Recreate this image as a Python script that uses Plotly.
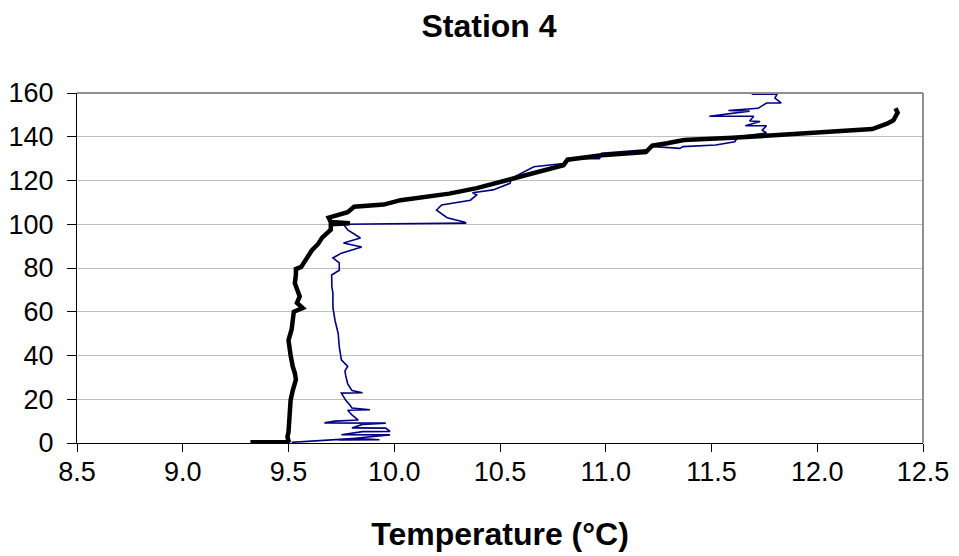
import plotly.graph_objects as go

# Black profile (thick)
black_depth = [0.4, 0.4, 1, 2.8, 5, 10, 15, 19.6, 24, 29, 32, 35, 40, 47, 52, 57, 60, 61.7, 64, 67, 70, 73, 77, 79.5,
               80.5, 85, 88, 91, 94, 97.5, 100, 100.5, 101, 103, 104, 105.5, 108, 109, 111, 112.5, 114, 116.5, 119,
               121, 124, 127, 129.5, 131.5, 133, 136, 137, 138.5, 139.5, 141, 143.5, 146, 147.5, 151, 153]
black_temp = [9.32, 9.49, 9.50, 9.495, 9.50, 9.505, 9.51, 9.51, 9.52, 9.535, 9.53, 9.52, 9.51, 9.50, 9.515, 9.52, 9.525,
              9.567, 9.54, 9.553, 9.54, 9.53, 9.535, 9.535,
              9.56, 9.59, 9.61, 9.64, 9.66, 9.70, 9.70, 9.79, 9.70, 9.69, 9.73, 9.78, 9.81, 9.95, 10.03, 10.14,
              10.26, 10.39, 10.49, 10.55, 10.69, 10.80, 10.82, 10.98, 11.19, 11.22, 11.29, 11.37, 11.60, 11.86,
              12.26, 12.33, 12.36, 12.38, 12.37]

# Navy profile (thin)
navy_depth = [0.3, 2.1, 1.5, 1.4, 2.5, 3.7, 3.8, 5.2, 5.3, 6.8, 6.9, 8.5, 9.1, 9.2, 10.0, 10.5, 12.8, 15, 15.2, 16,
              17.4, 19.6, 22.8, 23, 24, 27, 31, 33, 35, 38, 44, 50, 56, 62, 68.6, 71.4, 76.8, 79, 82.3, 84.6, 86.8,
              89.6, 91.4, 93.7, 97.4, 100, 100.5, 101, 103, 106.5, 108.8, 111, 113.4, 114.4, 115.7, 118.7, 121,
              126.3, 127.8, 130, 130, 132.4, 134, 135.5, 134.7, 135.5, 136.2, 137.7, 140, 141.7, 143, 145, 145,
              147, 147.2, 149.4, 149.4, 150.5, 151.7, 152, 153, 155.4, 155.4, 157.7, 159.5, 159.5]
navy_temp = [9.515, 9.82, 9.93, 9.74, 9.85, 9.98, 9.75, 9.85, 9.98, 9.96, 9.80, 9.85, 9.96, 9.67, 9.72, 9.83, 9.80,
             9.78, 9.885, 9.80, 9.79, 9.77, 9.75, 9.85, 9.80, 9.78, 9.77, 9.767, 9.78, 9.75, 9.74, 9.735, 9.72,
             9.71, 9.71, 9.705, 9.704, 9.74, 9.74, 9.71, 9.75, 9.846, 9.76, 9.84, 9.78, 9.76, 10.34, 10.33, 10.25,
             10.20, 10.224, 10.36, 10.39, 10.37, 10.467, 10.547, 10.555, 10.66, 10.80, 10.815, 10.97, 10.98,
             11.19, 11.23, 11.35, 11.365, 11.52, 11.61, 11.625, 11.76, 11.74, 11.76, 11.66, 11.73, 11.68, 11.70,
             11.49, 11.57, 11.68, 11.58, 11.72, 11.76, 11.83, 11.80, 11.81, 11.69]

x_ticks = [8.5, 9.0, 9.5, 10.0, 10.5, 11.0, 11.5, 12.0, 12.5]
y_ticks = [0, 20, 40, 60, 80, 100, 120, 140, 160]

FONT = "Liberation Sans, Arial, sans-serif"
W, H = 951, 548  # page body has an 8px margin

fig = go.Figure()
fig.add_trace(go.Scatter(x=navy_temp, y=navy_depth, mode="lines",
                         line=dict(color="#000080", width=1.6), showlegend=False))
fig.add_trace(go.Scatter(x=black_temp, y=black_depth, mode="lines",
                         line=dict(color="#000000", width=4.5), showlegend=False))

fig.update_layout(
    width=W, height=H,
    margin=dict(l=69, r=36, t=85, b=113, autoexpand=False),
    paper_bgcolor="white", plot_bgcolor="white",
    font=dict(family=FONT, size=27, color="black"),
    title=dict(text="<b>Station 4</b>", x=481 / W, xref="container", y=1 - 18 / H, yanchor="middle",
               xanchor="center", font=dict(family=FONT, size=32, color="black")),
    xaxis=dict(range=[8.5, 12.5], tickvals=x_ticks, ticktext=[f"{v:.1f}" for v in x_ticks],
               showgrid=False, zeroline=False, showline=True, linecolor="#000000", linewidth=1,
               ticks="outside", ticklen=8, tickcolor="#000000", automargin=False,
               ticklabelstandoff=-3,
               title=dict(text="<b>Temperature (°C)</b>", standoff=36,
                          font=dict(family=FONT, size=32, color="black")),
               tickfont=dict(family=FONT, size=27)),
    yaxis=dict(range=[0, 160], tickvals=y_ticks, showgrid=True, gridcolor="#c0c0c0", gridwidth=1,
               zeroline=False, showline=True, linecolor="#000000", linewidth=1,
               ticks="outside", ticklen=9, tickcolor="#000000", automargin=False,
               ticklabelstandoff=8,
               tickfont=dict(family=FONT, size=27)),
)

# Excel-style grey frame on top and right
fig.add_shape(type="line", xref="x domain", yref="y domain", x0=0, x1=1, y0=1, y1=1,
              line=dict(color="#909090", width=2))
fig.add_shape(type="line", xref="x domain", yref="y domain", x0=1, x1=1, y0=0, y1=1,
              line=dict(color="#909090", width=2))

fig.write_html("out.html")
